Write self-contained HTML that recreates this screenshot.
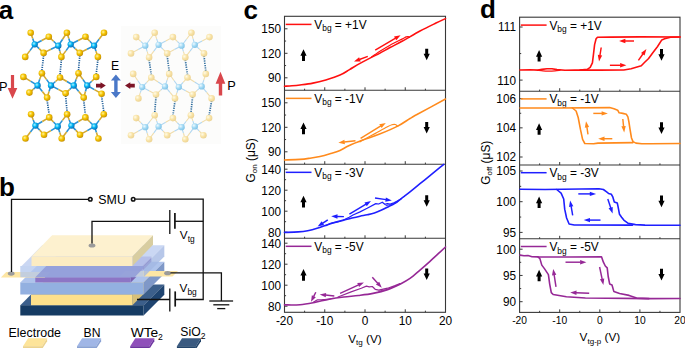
<!DOCTYPE html>
<html><head><meta charset="utf-8"><style>
html,body{margin:0;padding:0;background:#fff;}
body{width:685px;height:348px;overflow:hidden;}
svg{display:block;font-family:"Liberation Sans",sans-serif;}
</style></head><body>
<svg width="685" height="348" viewBox="0 0 685 348">
<rect width="685" height="348" fill="#fff"/>
<text x="-1.2" y="18.5" font-size="26" font-weight="bold" >a</text>
<text x="-1" y="195.6" font-size="26" font-weight="bold" >b</text>
<text x="243.6" y="18.5" font-size="26" font-weight="bold" >c</text>
<text x="480" y="18.4" font-size="26" font-weight="bold" >d</text>
<rect x="284.5" y="16.3" width="161" height="296" fill="none" stroke="#383838" stroke-width="1.1"/>
<line x1="284.5" y1="90.3" x2="445.5" y2="90.3" stroke="#383838" stroke-width="1.1"/>
<line x1="284.5" y1="164.2" x2="445.5" y2="164.2" stroke="#383838" stroke-width="1.1"/>
<line x1="284.5" y1="238.3" x2="445.5" y2="238.3" stroke="#383838" stroke-width="1.1"/>
<line x1="304.62" y1="90.3" x2="304.62" y2="88.7" stroke="#383838" stroke-width="1"/>
<line x1="324.75" y1="90.3" x2="324.75" y2="87.3" stroke="#383838" stroke-width="1"/>
<line x1="344.88" y1="90.3" x2="344.88" y2="88.7" stroke="#383838" stroke-width="1"/>
<line x1="365" y1="90.3" x2="365" y2="87.3" stroke="#383838" stroke-width="1"/>
<line x1="385.12" y1="90.3" x2="385.12" y2="88.7" stroke="#383838" stroke-width="1"/>
<line x1="405.25" y1="90.3" x2="405.25" y2="87.3" stroke="#383838" stroke-width="1"/>
<line x1="425.38" y1="90.3" x2="425.38" y2="88.7" stroke="#383838" stroke-width="1"/>
<line x1="284.5" y1="28.8" x2="287.5" y2="28.8" stroke="#383838" stroke-width="1"/>
<text transform="translate(281,33.25) scale(0.95,1)" font-size="12.4" text-anchor="end" >150</text>
<line x1="284.5" y1="53.3" x2="287.5" y2="53.3" stroke="#383838" stroke-width="1"/>
<text transform="translate(281,57.75) scale(0.95,1)" font-size="12.4" text-anchor="end" >120</text>
<line x1="284.5" y1="77.8" x2="287.5" y2="77.8" stroke="#383838" stroke-width="1"/>
<text transform="translate(281,82.25) scale(0.95,1)" font-size="12.4" text-anchor="end" >90</text>
<line x1="284.5" y1="41.05" x2="286.1" y2="41.05" stroke="#383838" stroke-width="1"/>
<line x1="284.5" y1="65.55" x2="286.1" y2="65.55" stroke="#383838" stroke-width="1"/>
<line x1="304.62" y1="164.2" x2="304.62" y2="162.6" stroke="#383838" stroke-width="1"/>
<line x1="324.75" y1="164.2" x2="324.75" y2="161.2" stroke="#383838" stroke-width="1"/>
<line x1="344.88" y1="164.2" x2="344.88" y2="162.6" stroke="#383838" stroke-width="1"/>
<line x1="365" y1="164.2" x2="365" y2="161.2" stroke="#383838" stroke-width="1"/>
<line x1="385.12" y1="164.2" x2="385.12" y2="162.6" stroke="#383838" stroke-width="1"/>
<line x1="405.25" y1="164.2" x2="405.25" y2="161.2" stroke="#383838" stroke-width="1"/>
<line x1="425.38" y1="164.2" x2="425.38" y2="162.6" stroke="#383838" stroke-width="1"/>
<line x1="284.5" y1="102.8" x2="287.5" y2="102.8" stroke="#383838" stroke-width="1"/>
<text transform="translate(281,107.25) scale(0.95,1)" font-size="12.4" text-anchor="end" >150</text>
<line x1="284.5" y1="127.3" x2="287.5" y2="127.3" stroke="#383838" stroke-width="1"/>
<text transform="translate(281,131.75) scale(0.95,1)" font-size="12.4" text-anchor="end" >120</text>
<line x1="284.5" y1="151.8" x2="287.5" y2="151.8" stroke="#383838" stroke-width="1"/>
<text transform="translate(281,156.25) scale(0.95,1)" font-size="12.4" text-anchor="end" >90</text>
<line x1="284.5" y1="115.05" x2="286.1" y2="115.05" stroke="#383838" stroke-width="1"/>
<line x1="284.5" y1="139.55" x2="286.1" y2="139.55" stroke="#383838" stroke-width="1"/>
<line x1="304.62" y1="238.3" x2="304.62" y2="236.7" stroke="#383838" stroke-width="1"/>
<line x1="324.75" y1="238.3" x2="324.75" y2="235.3" stroke="#383838" stroke-width="1"/>
<line x1="344.88" y1="238.3" x2="344.88" y2="236.7" stroke="#383838" stroke-width="1"/>
<line x1="365" y1="238.3" x2="365" y2="235.3" stroke="#383838" stroke-width="1"/>
<line x1="385.12" y1="238.3" x2="385.12" y2="236.7" stroke="#383838" stroke-width="1"/>
<line x1="405.25" y1="238.3" x2="405.25" y2="235.3" stroke="#383838" stroke-width="1"/>
<line x1="425.38" y1="238.3" x2="425.38" y2="236.7" stroke="#383838" stroke-width="1"/>
<line x1="284.5" y1="169.2" x2="287.5" y2="169.2" stroke="#383838" stroke-width="1"/>
<text transform="translate(281,173.65) scale(0.95,1)" font-size="12.4" text-anchor="end" >140</text>
<line x1="284.5" y1="190.2" x2="287.5" y2="190.2" stroke="#383838" stroke-width="1"/>
<text transform="translate(281,194.65) scale(0.95,1)" font-size="12.4" text-anchor="end" >120</text>
<line x1="284.5" y1="211.2" x2="287.5" y2="211.2" stroke="#383838" stroke-width="1"/>
<text transform="translate(281,215.65) scale(0.95,1)" font-size="12.4" text-anchor="end" >100</text>
<line x1="284.5" y1="232.2" x2="287.5" y2="232.2" stroke="#383838" stroke-width="1"/>
<text transform="translate(281,236.65) scale(0.95,1)" font-size="12.4" text-anchor="end" >80</text>
<line x1="284.5" y1="179.7" x2="286.1" y2="179.7" stroke="#383838" stroke-width="1"/>
<line x1="284.5" y1="200.7" x2="286.1" y2="200.7" stroke="#383838" stroke-width="1"/>
<line x1="284.5" y1="221.7" x2="286.1" y2="221.7" stroke="#383838" stroke-width="1"/>
<line x1="304.62" y1="312.3" x2="304.62" y2="310.7" stroke="#383838" stroke-width="1"/>
<line x1="324.75" y1="312.3" x2="324.75" y2="309.3" stroke="#383838" stroke-width="1"/>
<line x1="344.88" y1="312.3" x2="344.88" y2="310.7" stroke="#383838" stroke-width="1"/>
<line x1="365" y1="312.3" x2="365" y2="309.3" stroke="#383838" stroke-width="1"/>
<line x1="385.12" y1="312.3" x2="385.12" y2="310.7" stroke="#383838" stroke-width="1"/>
<line x1="405.25" y1="312.3" x2="405.25" y2="309.3" stroke="#383838" stroke-width="1"/>
<line x1="425.38" y1="312.3" x2="425.38" y2="310.7" stroke="#383838" stroke-width="1"/>
<line x1="284.5" y1="243.2" x2="287.5" y2="243.2" stroke="#383838" stroke-width="1"/>
<text transform="translate(281,247.65) scale(0.95,1)" font-size="12.4" text-anchor="end" >140</text>
<line x1="284.5" y1="264.2" x2="287.5" y2="264.2" stroke="#383838" stroke-width="1"/>
<text transform="translate(281,268.65) scale(0.95,1)" font-size="12.4" text-anchor="end" >120</text>
<line x1="284.5" y1="285.2" x2="287.5" y2="285.2" stroke="#383838" stroke-width="1"/>
<text transform="translate(281,289.65) scale(0.95,1)" font-size="12.4" text-anchor="end" >100</text>
<line x1="284.5" y1="306.2" x2="287.5" y2="306.2" stroke="#383838" stroke-width="1"/>
<text transform="translate(281,310.65) scale(0.95,1)" font-size="12.4" text-anchor="end" >80</text>
<line x1="284.5" y1="253.7" x2="286.1" y2="253.7" stroke="#383838" stroke-width="1"/>
<line x1="284.5" y1="274.7" x2="286.1" y2="274.7" stroke="#383838" stroke-width="1"/>
<line x1="284.5" y1="295.7" x2="286.1" y2="295.7" stroke="#383838" stroke-width="1"/>
<text transform="translate(284.5,325.1) scale(0.95,1)" font-size="12.5" text-anchor="middle" >-20</text>
<text transform="translate(324.75,325.1) scale(0.95,1)" font-size="12.5" text-anchor="middle" >-10</text>
<text transform="translate(365,325.1) scale(0.95,1)" font-size="12.5" text-anchor="middle" >0</text>
<text transform="translate(405.25,325.1) scale(0.95,1)" font-size="12.5" text-anchor="middle" >10</text>
<text transform="translate(445.5,325.1) scale(0.95,1)" font-size="12.5" text-anchor="middle" >20</text>
<rect x="519.6" y="17.2" width="160.4" height="295.2" fill="none" stroke="#383838" stroke-width="1.1"/>
<line x1="519.6" y1="91.2" x2="680" y2="91.2" stroke="#383838" stroke-width="1.1"/>
<line x1="519.6" y1="165" x2="680" y2="165" stroke="#383838" stroke-width="1.1"/>
<line x1="519.6" y1="238.8" x2="680" y2="238.8" stroke="#383838" stroke-width="1.1"/>
<line x1="539.65" y1="91.2" x2="539.65" y2="89.6" stroke="#383838" stroke-width="1"/>
<line x1="559.7" y1="91.2" x2="559.7" y2="88.2" stroke="#383838" stroke-width="1"/>
<line x1="579.75" y1="91.2" x2="579.75" y2="89.6" stroke="#383838" stroke-width="1"/>
<line x1="599.8" y1="91.2" x2="599.8" y2="88.2" stroke="#383838" stroke-width="1"/>
<line x1="619.85" y1="91.2" x2="619.85" y2="89.6" stroke="#383838" stroke-width="1"/>
<line x1="639.9" y1="91.2" x2="639.9" y2="88.2" stroke="#383838" stroke-width="1"/>
<line x1="659.95" y1="91.2" x2="659.95" y2="89.6" stroke="#383838" stroke-width="1"/>
<line x1="519.6" y1="27" x2="522.6" y2="27" stroke="#383838" stroke-width="1"/>
<text transform="translate(516,31.45) scale(0.95,1)" font-size="12.4" text-anchor="end" >111</text>
<line x1="519.6" y1="80.1" x2="522.6" y2="80.1" stroke="#383838" stroke-width="1"/>
<text transform="translate(516,84.55) scale(0.95,1)" font-size="12.4" text-anchor="end" >110</text>
<line x1="519.6" y1="53.55" x2="521.2" y2="53.55" stroke="#383838" stroke-width="1"/>
<line x1="539.65" y1="165" x2="539.65" y2="163.4" stroke="#383838" stroke-width="1"/>
<line x1="559.7" y1="165" x2="559.7" y2="162" stroke="#383838" stroke-width="1"/>
<line x1="579.75" y1="165" x2="579.75" y2="163.4" stroke="#383838" stroke-width="1"/>
<line x1="599.8" y1="165" x2="599.8" y2="162" stroke="#383838" stroke-width="1"/>
<line x1="619.85" y1="165" x2="619.85" y2="163.4" stroke="#383838" stroke-width="1"/>
<line x1="639.9" y1="165" x2="639.9" y2="162" stroke="#383838" stroke-width="1"/>
<line x1="659.95" y1="165" x2="659.95" y2="163.4" stroke="#383838" stroke-width="1"/>
<line x1="519.6" y1="98.7" x2="522.6" y2="98.7" stroke="#383838" stroke-width="1"/>
<text transform="translate(516,103.15) scale(0.95,1)" font-size="12.4" text-anchor="end" >106</text>
<line x1="519.6" y1="127.85" x2="522.6" y2="127.85" stroke="#383838" stroke-width="1"/>
<text transform="translate(516,132.3) scale(0.95,1)" font-size="12.4" text-anchor="end" >104</text>
<line x1="519.6" y1="157" x2="522.6" y2="157" stroke="#383838" stroke-width="1"/>
<text transform="translate(516,161.45) scale(0.95,1)" font-size="12.4" text-anchor="end" >102</text>
<line x1="519.6" y1="113.28" x2="521.2" y2="113.28" stroke="#383838" stroke-width="1"/>
<line x1="519.6" y1="142.43" x2="521.2" y2="142.43" stroke="#383838" stroke-width="1"/>
<line x1="539.65" y1="238.8" x2="539.65" y2="237.2" stroke="#383838" stroke-width="1"/>
<line x1="559.7" y1="238.8" x2="559.7" y2="235.8" stroke="#383838" stroke-width="1"/>
<line x1="579.75" y1="238.8" x2="579.75" y2="237.2" stroke="#383838" stroke-width="1"/>
<line x1="599.8" y1="238.8" x2="599.8" y2="235.8" stroke="#383838" stroke-width="1"/>
<line x1="619.85" y1="238.8" x2="619.85" y2="237.2" stroke="#383838" stroke-width="1"/>
<line x1="639.9" y1="238.8" x2="639.9" y2="235.8" stroke="#383838" stroke-width="1"/>
<line x1="659.95" y1="238.8" x2="659.95" y2="237.2" stroke="#383838" stroke-width="1"/>
<line x1="519.6" y1="171" x2="522.6" y2="171" stroke="#383838" stroke-width="1"/>
<text transform="translate(516,175.45) scale(0.95,1)" font-size="12.4" text-anchor="end" >105</text>
<line x1="519.6" y1="201.7" x2="522.6" y2="201.7" stroke="#383838" stroke-width="1"/>
<text transform="translate(516,206.15) scale(0.95,1)" font-size="12.4" text-anchor="end" >100</text>
<line x1="519.6" y1="232.4" x2="522.6" y2="232.4" stroke="#383838" stroke-width="1"/>
<text transform="translate(516,236.85) scale(0.95,1)" font-size="12.4" text-anchor="end" >95</text>
<line x1="519.6" y1="186.35" x2="521.2" y2="186.35" stroke="#383838" stroke-width="1"/>
<line x1="519.6" y1="217.05" x2="521.2" y2="217.05" stroke="#383838" stroke-width="1"/>
<line x1="539.65" y1="312.4" x2="539.65" y2="310.8" stroke="#383838" stroke-width="1"/>
<line x1="559.7" y1="312.4" x2="559.7" y2="309.4" stroke="#383838" stroke-width="1"/>
<line x1="579.75" y1="312.4" x2="579.75" y2="310.8" stroke="#383838" stroke-width="1"/>
<line x1="599.8" y1="312.4" x2="599.8" y2="309.4" stroke="#383838" stroke-width="1"/>
<line x1="619.85" y1="312.4" x2="619.85" y2="310.8" stroke="#383838" stroke-width="1"/>
<line x1="639.9" y1="312.4" x2="639.9" y2="309.4" stroke="#383838" stroke-width="1"/>
<line x1="659.95" y1="312.4" x2="659.95" y2="310.8" stroke="#383838" stroke-width="1"/>
<line x1="519.6" y1="249.2" x2="522.6" y2="249.2" stroke="#383838" stroke-width="1"/>
<text transform="translate(516,253.65) scale(0.95,1)" font-size="12.4" text-anchor="end" >100</text>
<line x1="519.6" y1="275.45" x2="522.6" y2="275.45" stroke="#383838" stroke-width="1"/>
<text transform="translate(516,279.9) scale(0.95,1)" font-size="12.4" text-anchor="end" >95</text>
<line x1="519.6" y1="301.7" x2="522.6" y2="301.7" stroke="#383838" stroke-width="1"/>
<text transform="translate(516,306.15) scale(0.95,1)" font-size="12.4" text-anchor="end" >90</text>
<line x1="519.6" y1="262.32" x2="521.2" y2="262.32" stroke="#383838" stroke-width="1"/>
<line x1="519.6" y1="288.57" x2="521.2" y2="288.57" stroke="#383838" stroke-width="1"/>
<text transform="translate(519.6,324.1) scale(0.95,1)" font-size="10.8" text-anchor="middle" >-20</text>
<text transform="translate(559.7,324.1) scale(0.95,1)" font-size="10.8" text-anchor="middle" >-10</text>
<text transform="translate(599.8,324.1) scale(0.95,1)" font-size="10.8" text-anchor="middle" >0</text>
<text transform="translate(639.9,324.1) scale(0.95,1)" font-size="10.8" text-anchor="middle" >10</text>
<text transform="translate(680,324.1) scale(0.95,1)" font-size="10.8" text-anchor="middle" >20</text>
<text x="348.2" y="342.8" font-size="11.8">V<tspan font-size="8" dy="2.6">tg</tspan><tspan dy="-2.6"> (V)</tspan></text>
<text x="579.6" y="341.1" font-size="11.8">V<tspan font-size="8" dy="2.6">tg-p</tspan><tspan dy="-2.6"> (V)</tspan></text>
<text transform="translate(254.7,182.4) rotate(-90)" font-size="11.9">G<tspan font-size="8" dy="2.6">on</tspan><tspan dy="-2.6"> (μS)</tspan></text>
<text transform="translate(489.8,184.7) rotate(-90)" font-size="11.9">G<tspan font-size="8" dy="2.6">off</tspan><tspan dy="-2.6"> (μS)</tspan></text>
<line x1="285.7" y1="24.4" x2="311.5" y2="24.4" stroke="#ff1010" stroke-width="1.5"/>
<text x="314.3" y="28.8" font-size="11.9">V<tspan font-size="8.4" dy="2.6">bg</tspan><tspan dy="-2.6"> = +1V</tspan></text>
<line x1="520.8" y1="25.1" x2="546.6" y2="25.1" stroke="#ff1010" stroke-width="1.5"/>
<text x="549.4" y="29.5" font-size="11.9">V<tspan font-size="8.4" dy="2.6">bg</tspan><tspan dy="-2.6"> = +1V</tspan></text>
<line x1="285.7" y1="98.37" x2="311.5" y2="98.37" stroke="#ff8a1c" stroke-width="1.5"/>
<text x="314.3" y="102.77" font-size="11.9">V<tspan font-size="8.4" dy="2.6">bg</tspan><tspan dy="-2.6"> = -1V</tspan></text>
<line x1="520.8" y1="98.9" x2="546.6" y2="98.9" stroke="#ff8a1c" stroke-width="1.5"/>
<text x="549.4" y="103.3" font-size="11.9">V<tspan font-size="8.4" dy="2.6">bg</tspan><tspan dy="-2.6"> = -1V</tspan></text>
<line x1="285.7" y1="172.34" x2="311.5" y2="172.34" stroke="#1f1fff" stroke-width="1.5"/>
<text x="314.3" y="176.74" font-size="11.9">V<tspan font-size="8.4" dy="2.6">bg</tspan><tspan dy="-2.6"> = -3V</tspan></text>
<line x1="520.8" y1="172.7" x2="546.6" y2="172.7" stroke="#1f1fff" stroke-width="1.5"/>
<text x="549.4" y="177.1" font-size="11.9">V<tspan font-size="8.4" dy="2.6">bg</tspan><tspan dy="-2.6"> = -3V</tspan></text>
<line x1="285.7" y1="246.31" x2="311.5" y2="246.31" stroke="#962896" stroke-width="1.5"/>
<text x="314.3" y="250.71" font-size="11.9">V<tspan font-size="8.4" dy="2.6">bg</tspan><tspan dy="-2.6"> = -5V</tspan></text>
<line x1="520.8" y1="246.5" x2="546.6" y2="246.5" stroke="#962896" stroke-width="1.5"/>
<text x="549.4" y="250.9" font-size="11.9">V<tspan font-size="8.4" dy="2.6">bg</tspan><tspan dy="-2.6"> = -5V</tspan></text>
<path d="M303.5,49.2 L306.6,55.8 L305,55.8 L305,60.9 L302,60.9 L302,55.8 L300.4,55.8 Z" fill="#000"/>
<path d="M426.7,60.3 L429.8,53.7 L428.2,53.7 L428.2,48.8 L425.2,48.8 L425.2,53.7 L423.6,53.7 Z" fill="#000"/>
<path d="M539.1,50.1 L542.2,56.7 L540.6,56.7 L540.6,61.4 L537.6,61.4 L537.6,56.7 L536,56.7 Z" fill="#000"/>
<path d="M661.5,60.8 L664.6,54.2 L663,54.2 L663,48.9 L660,48.9 L660,54.2 L658.4,54.2 Z" fill="#000"/>
<path d="M303.5,122.45 L306.6,129.05 L305,129.05 L305,134.15 L302,134.15 L302,129.05 L300.4,129.05 Z" fill="#000"/>
<path d="M426.7,133.55 L429.8,126.95 L428.2,126.95 L428.2,122.05 L425.2,122.05 L425.2,126.95 L423.6,126.95 Z" fill="#000"/>
<path d="M539.1,123.35 L542.2,129.95 L540.6,129.95 L540.6,134.65 L537.6,134.65 L537.6,129.95 L536,129.95 Z" fill="#000"/>
<path d="M661.5,134.05 L664.6,127.45 L663,127.45 L663,122.15 L660,122.15 L660,127.45 L658.4,127.45 Z" fill="#000"/>
<path d="M303.5,195.7 L306.6,202.3 L305,202.3 L305,207.4 L302,207.4 L302,202.3 L300.4,202.3 Z" fill="#000"/>
<path d="M426.7,206.8 L429.8,200.2 L428.2,200.2 L428.2,195.3 L425.2,195.3 L425.2,200.2 L423.6,200.2 Z" fill="#000"/>
<path d="M539.1,196.6 L542.2,203.2 L540.6,203.2 L540.6,207.9 L537.6,207.9 L537.6,203.2 L536,203.2 Z" fill="#000"/>
<path d="M661.5,207.3 L664.6,200.7 L663,200.7 L663,195.4 L660,195.4 L660,200.7 L658.4,200.7 Z" fill="#000"/>
<path d="M303.5,268.95 L306.6,275.55 L305,275.55 L305,280.65 L302,280.65 L302,275.55 L300.4,275.55 Z" fill="#000"/>
<path d="M426.7,280.05 L429.8,273.45 L428.2,273.45 L428.2,268.55 L425.2,268.55 L425.2,273.45 L423.6,273.45 Z" fill="#000"/>
<path d="M539.1,269.85 L542.2,276.45 L540.6,276.45 L540.6,281.15 L537.6,281.15 L537.6,276.45 L536,276.45 Z" fill="#000"/>
<path d="M661.5,280.55 L664.6,273.95 L663,273.95 L663,268.65 L660,268.65 L660,273.95 L658.4,273.95 Z" fill="#000"/>
<path d="M284.5,86.2 C285.75,86.13 289.42,86 292,85.8 C294.58,85.6 296.52,85.45 300,85 C303.48,84.55 308.6,83.95 312.9,83.1 C317.2,82.25 321.28,81.23 325.8,79.9 C330.32,78.57 336.05,76.82 340,75.1 C343.95,73.38 346.17,71.55 349.5,69.6 C352.83,67.65 356.58,65.32 360,63.4 C363.42,61.48 366.67,59.82 370,58.1 C373.33,56.38 376.67,54.87 380,53.1 C383.33,51.33 386.33,49.47 390,47.5 C393.67,45.53 397,44.04 402,41.3 C407,38.56 414.33,34.09 420,31.05 C425.67,28.01 431.75,25.12 436,23.05 C440.25,20.98 443.92,19.34 445.5,18.6" fill="none" stroke="#ff1010" stroke-width="1.6" stroke-linejoin="round" stroke-linecap="round"/>
<path d="M371.5,56.9 C372.08,56.52 373.58,55.53 375,54.6 C376.42,53.67 377.5,52.87 380,51.3 C382.5,49.73 386.33,47.23 390,45.2 C393.67,43.17 399.28,40.48 402,39.1 C404.72,37.72 405.27,37.32 406.3,36.9 C407.33,36.48 407.68,36.52 408.2,36.6 C408.72,36.68 409.2,37.27 409.4,37.4" fill="none" stroke="#ff1010" stroke-width="1.2" stroke-linejoin="round" stroke-linecap="round"/>
<line x1="375.2" y1="50.1" x2="395.6" y2="38.13" stroke="#ff1010" stroke-width="1.45"/>
<path d="M400.6,35.2 L396.28,40.29 L394.05,36.49 Z" fill="#ff1010"/>
<line x1="367.8" y1="56.4" x2="359.43" y2="59.55" stroke="#ff1010" stroke-width="1.45"/>
<path d="M354,61.6 L359.12,57.32 L360.67,61.44 Z" fill="#ff1010"/>
<path d="M284.5,160 C287.08,159.9 295.75,159.7 300,159.4 C304.25,159.1 306.67,158.69 310,158.2 C313.33,157.71 316.67,157.2 320,156.45 C323.33,155.7 326.67,154.71 330,153.7 C333.33,152.69 336.88,151.72 340,150.4 C343.12,149.08 344.92,147.52 348.7,145.8 C352.48,144.08 357.65,142.02 362.7,140.1 C367.75,138.18 373.17,136.63 379,134.3 C384.83,131.97 392.53,128.73 397.7,126.1 C402.87,123.47 406.87,120.38 410,118.5 C413.13,116.62 410.58,118.05 416.5,114.8 C422.42,111.55 440.67,101.63 445.5,99" fill="none" stroke="#ff8a1c" stroke-width="1.6" stroke-linejoin="round" stroke-linecap="round"/>
<path d="M360,141.8 C360.45,141.55 360.2,141.67 362.7,140.3 C365.2,138.93 370.95,135.82 375,133.6 C379.05,131.38 384.18,128.48 387,127 C389.82,125.52 390.5,125.12 391.9,124.7 C393.3,124.28 394.43,124.23 395.4,124.5 C396.37,124.77 397.32,126 397.7,126.3" fill="none" stroke="#ff8a1c" stroke-width="1.2" stroke-linejoin="round" stroke-linecap="round"/>
<line x1="360.6" y1="138.4" x2="380.86" y2="125.94" stroke="#ff8a1c" stroke-width="1.45"/>
<path d="M385.8,122.9 L381.59,128.07 L379.28,124.33 Z" fill="#ff8a1c"/>
<line x1="355.5" y1="140.7" x2="344.16" y2="142.09" stroke="#ff8a1c" stroke-width="1.45"/>
<path d="M338.4,142.8 L344.38,139.85 L344.92,144.22 Z" fill="#ff8a1c"/>
<path d="M284.5,232.4 C286.78,232.32 294.33,232.18 298.2,231.9 C302.07,231.62 304.55,231.3 307.7,230.7 C310.85,230.1 313.17,229.52 317.1,228.3 C321.03,227.08 326.97,224.73 331.3,223.4 C335.63,222.07 339.65,221.2 343.1,220.3 C346.55,219.4 349.18,218.68 352,218 C354.82,217.32 357.47,216.73 360,216.2 C362.53,215.67 364.8,215.33 367.2,214.8 C369.6,214.27 372,213.78 374.4,213 C376.8,212.22 379.2,211.18 381.6,210.1 C384,209.02 386.65,207.58 388.8,206.5 C390.95,205.42 392.58,204.8 394.5,203.6 C396.42,202.4 398.55,200.62 400.3,199.3 C402.05,197.98 403.38,196.95 405,195.7 C406.62,194.45 407.5,193.81 410,191.8 C412.5,189.79 416.67,186.35 420,183.65 C423.33,180.95 426.67,178.31 430,175.6 C433.33,172.89 437.7,169.27 440,167.4 C442.3,165.53 443.17,164.9 443.8,164.4" fill="none" stroke="#1f1fff" stroke-width="1.6" stroke-linejoin="round" stroke-linecap="round"/>
<path d="M326,225.8 C326.67,225.4 328.33,224 330,223.4 C331.67,222.8 333.73,222.7 336,222.2 C338.27,221.7 342.33,220.7 343.6,220.4" fill="none" stroke="#1f1fff" stroke-width="1.1" stroke-linejoin="round" stroke-linecap="round"/>
<path d="M343,220.2 L349.2,217.2 L353,215 L360,211.9 L367.2,208.3 L375.8,203.6 L378.7,204 L382.3,202.2 L384.8,204.3 L387.3,203.6 L390.2,204 L393.8,202.9 L398.1,200.8 L401,199" fill="none" stroke="#1f1fff" stroke-width="1.25" stroke-linejoin="round" stroke-linecap="round"/>
<path d="M386,205.5 C387,205.28 390,204.85 392,204.2 C394,203.55 397,202.03 398,201.6" fill="none" stroke="#1f1fff" stroke-width="1.0" stroke-linejoin="round" stroke-linecap="round"/>
<line x1="349.4" y1="214.1" x2="366.04" y2="204.01" stroke="#1f1fff" stroke-width="1.45"/>
<path d="M371,201 L366.75,206.15 L364.47,202.39 Z" fill="#1f1fff"/>
<line x1="375" y1="198" x2="386.06" y2="199.65" stroke="#1f1fff" stroke-width="1.45"/>
<path d="M391.8,200.5 L385.24,201.75 L385.89,197.4 Z" fill="#1f1fff"/>
<line x1="343.9" y1="216.6" x2="337" y2="216.44" stroke="#1f1fff" stroke-width="1.45"/>
<path d="M331.2,216.3 L337.55,214.25 L337.45,218.65 Z" fill="#1f1fff"/>
<line x1="327.8" y1="219.9" x2="322.47" y2="223.35" stroke="#1f1fff" stroke-width="1.45"/>
<path d="M317.6,226.5 L321.69,221.23 L324.08,224.92 Z" fill="#1f1fff"/>
<path d="M284.5,304.9 C287.08,304.87 294.98,305.12 300,304.7 C305.02,304.28 309.73,303.32 314.6,302.4 C319.47,301.48 324.33,300.1 329.2,299.2 C334.07,298.3 338.93,297.62 343.8,297 C348.67,296.38 353.53,296.1 358.4,295.5 C363.27,294.9 368.13,294.37 373,293.4 C377.87,292.43 383.1,291.23 387.6,289.7 C392.1,288.17 396.27,286.08 400,284.2 C403.73,282.32 406.67,280.76 410,278.4 C413.33,276.04 416.67,272.9 420,270.05 C423.33,267.2 426.67,264.3 430,261.3 C433.33,258.3 437.42,254.43 440,252.05 C442.58,249.67 444.58,247.84 445.5,247" fill="none" stroke="#962896" stroke-width="1.6" stroke-linejoin="round" stroke-linecap="round"/>
<path d="M313.5,302.3 C314.17,301.9 315.85,300.35 317.5,299.9 C319.15,299.45 320.72,299.87 323.4,299.6 C326.08,299.33 331.9,298.52 333.6,298.3" fill="none" stroke="#962896" stroke-width="1.1" stroke-linejoin="round" stroke-linecap="round"/>
<path d="M338,297 L351.1,291.9 L361.3,288.2 L366.4,286.1 L369.3,286.8 L372.3,286.5 L375.2,289.3 L378.8,290.1 L387.6,288.2 L395,285.6 L400,283.6" fill="none" stroke="#962896" stroke-width="1.2" stroke-linejoin="round" stroke-linecap="round"/>
<path d="M378.8,291.2 C380.33,290.83 385.13,289.9 388,289 C390.87,288.1 394.67,286.33 396,285.8" fill="none" stroke="#962896" stroke-width="1.0" stroke-linejoin="round" stroke-linecap="round"/>
<line x1="340.1" y1="293.4" x2="358.64" y2="284.83" stroke="#962896" stroke-width="1.45"/>
<path d="M363.9,282.4 L359.1,287.04 L357.26,283.05 Z" fill="#962896"/>
<line x1="372.3" y1="277.3" x2="377.91" y2="283.5" stroke="#962896" stroke-width="1.45"/>
<path d="M381.8,287.8 L375.94,284.6 L379.2,281.65 Z" fill="#962896"/>
<line x1="334.3" y1="296" x2="325.47" y2="295.09" stroke="#962896" stroke-width="1.45"/>
<path d="M319.7,294.5 L326.19,292.96 L325.74,297.33 Z" fill="#962896"/>
<line x1="315.8" y1="292.2" x2="313.59" y2="296.61" stroke="#962896" stroke-width="1.45"/>
<path d="M311,301.8 L311.85,295.18 L315.79,297.15 Z" fill="#962896"/>
<path d="M520,70 L530,69.8 L538,70.1 L542,69.4 L547,68.8 L552,68.8 L557,69.6 L565,70.2 L575,70 L590,70.1 L600,70.1 L623.8,70 L631.1,68.7 L641.3,65.8 L644.2,62.8 L648.6,58.5 L653,52.6 L657.4,46.8 L661.8,39.9 L664.7,38.8 L670.5,37.3 L680,37" fill="none" stroke="#ff1010" stroke-width="1.6" stroke-linejoin="round" stroke-linecap="round"/>
<path d="M680,37 L640,36.9 L610,37.1 L597.5,37.2 L596.1,38.8 L594.6,44.6 L593.4,54.8 L592.4,62.8 L590.2,67.4 L587.3,69.4 L580,70" fill="none" stroke="#ff1010" stroke-width="1.6" stroke-linejoin="round" stroke-linecap="round"/>
<path d="M538,70.2 C538.83,70.32 541.17,70.75 543,70.9 C544.83,71.05 547,71.12 549,71.1 C551,71.08 553.17,70.95 555,70.8 C556.83,70.65 559.17,70.3 560,70.2" fill="none" stroke="#ff1010" stroke-width="1.2" stroke-linejoin="round" stroke-linecap="round"/>
<line x1="634" y1="41" x2="624.9" y2="41" stroke="#ff1010" stroke-width="1.45"/>
<path d="M619.1,41 L625.4,38.8 L625.4,43.2 Z" fill="#ff1010"/>
<line x1="601.2" y1="47.5" x2="599.91" y2="55.67" stroke="#ff1010" stroke-width="1.45"/>
<path d="M599,61.4 L597.81,54.83 L602.16,55.52 Z" fill="#ff1010"/>
<line x1="609.9" y1="65.3" x2="620.6" y2="65.3" stroke="#ff1010" stroke-width="1.45"/>
<path d="M626.4,65.3 L620.1,67.5 L620.1,63.1 Z" fill="#ff1010"/>
<line x1="638.4" y1="60.4" x2="643.07" y2="53.75" stroke="#ff1010" stroke-width="1.45"/>
<path d="M646.4,49 L644.58,55.42 L640.98,52.89 Z" fill="#ff1010"/>
<path d="M520,108 L560,108 L609.6,107.6 L614,108.8 L617.7,110.2 L619.1,112.8 L622.8,113.4 L626.4,114.3 L627.9,116.8 L628.9,121.9 L630,129.2 L631.5,138 L633,141.6 L635.9,143.1 L641.8,143.8 L650.5,143.8 L680,143.5" fill="none" stroke="#ff8a1c" stroke-width="1.6" stroke-linejoin="round" stroke-linecap="round"/>
<path d="M572.4,108 L576.1,111 L578.2,117.5 L580.4,129.2 L582.6,139.4 L584.8,143.5 L593.6,143.8 L598,143.1 L633,142.6" fill="none" stroke="#ff8a1c" stroke-width="1.6" stroke-linejoin="round" stroke-linecap="round"/>
<line x1="593.3" y1="113.4" x2="602.1" y2="113.4" stroke="#ff8a1c" stroke-width="1.45"/>
<path d="M607.9,113.4 L601.6,115.6 L601.6,111.2 Z" fill="#ff8a1c"/>
<line x1="622.8" y1="119" x2="623.6" y2="126.63" stroke="#ff8a1c" stroke-width="1.45"/>
<path d="M624.2,132.4 L621.36,126.36 L625.73,125.91 Z" fill="#ff8a1c"/>
<line x1="612.3" y1="138.7" x2="604" y2="138.7" stroke="#ff8a1c" stroke-width="1.45"/>
<path d="M598.2,138.7 L604.5,136.5 L604.5,140.9 Z" fill="#ff8a1c"/>
<line x1="588" y1="134.3" x2="586.88" y2="126.93" stroke="#ff8a1c" stroke-width="1.45"/>
<path d="M586,121.2 L589.13,127.1 L584.78,127.76 Z" fill="#ff8a1c"/>
<path d="M520,189.3 L545,189.5 L599,188.8 L603.4,189.5 L606.3,191.7 L608.5,193.4 L611.4,194.3 L612.9,197.2 L614.3,201.9 L617.3,203.1 L618,206.3 L619.5,214.3 L621.6,217.2 L623.8,220.1 L628.2,223.4 L635.5,224.6 L645,225.1 L680,225.3" fill="none" stroke="#1f1fff" stroke-width="1.6" stroke-linejoin="round" stroke-linecap="round"/>
<path d="M556.7,189.5 L561.1,193.1 L563.7,199 L564.7,209.2 L566.6,218 L569.1,224 L574.2,225 L632.6,225.1" fill="none" stroke="#1f1fff" stroke-width="1.6" stroke-linejoin="round" stroke-linecap="round"/>
<line x1="578.3" y1="193.9" x2="590.3" y2="193.9" stroke="#1f1fff" stroke-width="1.45"/>
<path d="M596.1,193.9 L589.8,196.1 L589.8,191.7 Z" fill="#1f1fff"/>
<line x1="607.8" y1="199" x2="610.79" y2="208.09" stroke="#1f1fff" stroke-width="1.45"/>
<path d="M612.6,213.6 L608.54,208.3 L612.72,206.93 Z" fill="#1f1fff"/>
<line x1="600.5" y1="220.1" x2="589.5" y2="220.1" stroke="#1f1fff" stroke-width="1.45"/>
<path d="M583.7,220.1 L590,217.9 L590,222.3 Z" fill="#1f1fff"/>
<line x1="572.7" y1="215.3" x2="571.1" y2="206.11" stroke="#1f1fff" stroke-width="1.45"/>
<path d="M570.1,200.4 L573.35,206.23 L569.02,206.98 Z" fill="#1f1fff"/>
<path d="M520,255.1 L524,255.8 L528,255.6 L532,256.7 L538,256.9 L570,257 L601.5,256.8 L603.4,262.2 L605.3,266 L607.2,267.9 L608.2,276.5 L609.7,284.1 L612,285 L613.9,291.6 L619.6,293.5 L629.1,295.4 L636.6,298.1 L649,298.6 L680,298.5" fill="none" stroke="#962896" stroke-width="1.6" stroke-linejoin="round" stroke-linecap="round"/>
<path d="M538,256.9 L539.9,258.6 L541.8,265.1 L544.6,268.9 L548.4,274.6 L549.7,284.1 L551.3,292.6 L553.2,294.5 L566.4,296.7 L585.4,298 L649,298.6" fill="none" stroke="#962896" stroke-width="1.6" stroke-linejoin="round" stroke-linecap="round"/>
<line x1="565.5" y1="262.2" x2="580.6" y2="262.2" stroke="#962896" stroke-width="1.45"/>
<path d="M586.4,262.2 L580.1,264.4 L580.1,260 Z" fill="#962896"/>
<line x1="599.6" y1="267" x2="602.2" y2="279.33" stroke="#962896" stroke-width="1.45"/>
<path d="M603.4,285 L599.95,279.29 L604.25,278.38 Z" fill="#962896"/>
<line x1="589.2" y1="293.2" x2="576" y2="292.78" stroke="#962896" stroke-width="1.45"/>
<path d="M570.2,292.6 L576.57,290.6 L576.43,295 Z" fill="#962896"/>
<line x1="556" y1="286.9" x2="554.09" y2="274.63" stroke="#962896" stroke-width="1.45"/>
<path d="M553.2,268.9 L556.34,274.79 L551.99,275.46 Z" fill="#962896"/>
<defs>
<radialGradient id="gy" cx="0.38" cy="0.38" r="0.7"><stop offset="0" stop-color="#fff4a0"/><stop offset="0.45" stop-color="#f5c400"/><stop offset="0.85" stop-color="#d09a00"/><stop offset="1" stop-color="#a87400"/></radialGradient>
<radialGradient id="gb" cx="0.38" cy="0.38" r="0.7"><stop offset="0" stop-color="#b0f4ff"/><stop offset="0.45" stop-color="#00b2f2"/><stop offset="0.85" stop-color="#0a7ac2"/><stop offset="1" stop-color="#06528c"/></radialGradient>
<radialGradient id="gyl" cx="0.35" cy="0.35" r="0.75"><stop offset="0" stop-color="#fffbe6"/><stop offset="0.5" stop-color="#f8e2a4"/><stop offset="1" stop-color="#ead090"/></radialGradient>
<radialGradient id="gbl" cx="0.35" cy="0.35" r="0.75"><stop offset="0" stop-color="#eefaff"/><stop offset="0.5" stop-color="#9fd8f4"/><stop offset="1" stop-color="#7cbfe4"/></radialGradient>
</defs>
<rect x="121" y="26" width="100" height="118" fill="#fcfcfb"/>
<line x1="34.7" y1="44.3" x2="32.7" y2="38.55" stroke="#2a92d6" stroke-width="1.55"/>
<line x1="32.7" y1="38.55" x2="30.7" y2="32.8" stroke="#d2a832" stroke-width="1.55"/>
<line x1="34.7" y1="44.3" x2="41.75" y2="40.5" stroke="#2a92d6" stroke-width="1.55"/>
<line x1="41.75" y1="40.5" x2="48.8" y2="36.7" stroke="#d2a832" stroke-width="1.55"/>
<line x1="34.7" y1="44.3" x2="29.95" y2="50.6" stroke="#2a92d6" stroke-width="1.55"/>
<line x1="29.95" y1="50.6" x2="25.2" y2="56.9" stroke="#d2a832" stroke-width="1.55"/>
<line x1="34.7" y1="44.3" x2="39.15" y2="48.6" stroke="#2a92d6" stroke-width="1.55"/>
<line x1="39.15" y1="48.6" x2="43.6" y2="52.9" stroke="#d2a832" stroke-width="1.55"/>
<line x1="58.3" y1="45.7" x2="53.55" y2="41.2" stroke="#2a92d6" stroke-width="1.55"/>
<line x1="53.55" y1="41.2" x2="48.8" y2="36.7" stroke="#d2a832" stroke-width="1.55"/>
<line x1="58.3" y1="45.7" x2="62.6" y2="39.25" stroke="#2a92d6" stroke-width="1.55"/>
<line x1="62.6" y1="39.25" x2="66.9" y2="32.8" stroke="#d2a832" stroke-width="1.55"/>
<line x1="58.3" y1="45.7" x2="50.95" y2="49.3" stroke="#2a92d6" stroke-width="1.55"/>
<line x1="50.95" y1="49.3" x2="43.6" y2="52.9" stroke="#d2a832" stroke-width="1.55"/>
<line x1="58.3" y1="45.7" x2="59.85" y2="51.3" stroke="#2a92d6" stroke-width="1.55"/>
<line x1="59.85" y1="51.3" x2="61.4" y2="56.9" stroke="#d2a832" stroke-width="1.55"/>
<line x1="70.7" y1="44.3" x2="68.8" y2="38.55" stroke="#2a92d6" stroke-width="1.55"/>
<line x1="68.8" y1="38.55" x2="66.9" y2="32.8" stroke="#d2a832" stroke-width="1.55"/>
<line x1="70.7" y1="44.3" x2="78.1" y2="40.5" stroke="#2a92d6" stroke-width="1.55"/>
<line x1="78.1" y1="40.5" x2="85.5" y2="36.7" stroke="#d2a832" stroke-width="1.55"/>
<line x1="70.7" y1="44.3" x2="66.05" y2="50.6" stroke="#2a92d6" stroke-width="1.55"/>
<line x1="66.05" y1="50.6" x2="61.4" y2="56.9" stroke="#d2a832" stroke-width="1.55"/>
<line x1="70.7" y1="44.3" x2="75.25" y2="48.6" stroke="#2a92d6" stroke-width="1.55"/>
<line x1="75.25" y1="48.6" x2="79.8" y2="52.9" stroke="#d2a832" stroke-width="1.55"/>
<line x1="94.1" y1="45.7" x2="89.8" y2="41.2" stroke="#2a92d6" stroke-width="1.55"/>
<line x1="89.8" y1="41.2" x2="85.5" y2="36.7" stroke="#d2a832" stroke-width="1.55"/>
<line x1="94.1" y1="45.7" x2="99.05" y2="39.25" stroke="#2a92d6" stroke-width="1.55"/>
<line x1="99.05" y1="39.25" x2="104" y2="32.8" stroke="#d2a832" stroke-width="1.55"/>
<line x1="94.1" y1="45.7" x2="86.95" y2="49.3" stroke="#2a92d6" stroke-width="1.55"/>
<line x1="86.95" y1="49.3" x2="79.8" y2="52.9" stroke="#d2a832" stroke-width="1.55"/>
<line x1="94.1" y1="45.7" x2="96" y2="51.3" stroke="#2a92d6" stroke-width="1.55"/>
<line x1="96" y1="51.3" x2="97.9" y2="56.9" stroke="#d2a832" stroke-width="1.55"/>
<line x1="37.6" y1="85.5" x2="30.5" y2="81.2" stroke="#2a92d6" stroke-width="1.55"/>
<line x1="30.5" y1="81.2" x2="23.4" y2="76.9" stroke="#d2a832" stroke-width="1.55"/>
<line x1="37.6" y1="85.5" x2="39.75" y2="79.35" stroke="#2a92d6" stroke-width="1.55"/>
<line x1="39.75" y1="79.35" x2="41.9" y2="73.2" stroke="#d2a832" stroke-width="1.55"/>
<line x1="37.6" y1="85.5" x2="33.5" y2="89.05" stroke="#2a92d6" stroke-width="1.55"/>
<line x1="33.5" y1="89.05" x2="29.4" y2="92.6" stroke="#d2a832" stroke-width="1.55"/>
<line x1="37.6" y1="85.5" x2="42.35" y2="91.55" stroke="#2a92d6" stroke-width="1.55"/>
<line x1="42.35" y1="91.55" x2="47.1" y2="97.6" stroke="#d2a832" stroke-width="1.55"/>
<line x1="51" y1="85.5" x2="46.45" y2="79.35" stroke="#2a92d6" stroke-width="1.55"/>
<line x1="46.45" y1="79.35" x2="41.9" y2="73.2" stroke="#d2a832" stroke-width="1.55"/>
<line x1="51" y1="85.5" x2="55.5" y2="81.5" stroke="#2a92d6" stroke-width="1.55"/>
<line x1="55.5" y1="81.5" x2="60" y2="77.5" stroke="#d2a832" stroke-width="1.55"/>
<line x1="51" y1="85.5" x2="49.05" y2="91.55" stroke="#2a92d6" stroke-width="1.55"/>
<line x1="49.05" y1="91.55" x2="47.1" y2="97.6" stroke="#d2a832" stroke-width="1.55"/>
<line x1="51" y1="85.5" x2="58.3" y2="89.4" stroke="#2a92d6" stroke-width="1.55"/>
<line x1="58.3" y1="89.4" x2="65.6" y2="93.3" stroke="#d2a832" stroke-width="1.55"/>
<line x1="73.8" y1="85.5" x2="66.9" y2="81.5" stroke="#2a92d6" stroke-width="1.55"/>
<line x1="66.9" y1="81.5" x2="60" y2="77.5" stroke="#d2a832" stroke-width="1.55"/>
<line x1="73.8" y1="85.5" x2="76.15" y2="79.35" stroke="#2a92d6" stroke-width="1.55"/>
<line x1="76.15" y1="79.35" x2="78.5" y2="73.2" stroke="#d2a832" stroke-width="1.55"/>
<line x1="73.8" y1="85.5" x2="69.7" y2="89.4" stroke="#2a92d6" stroke-width="1.55"/>
<line x1="69.7" y1="89.4" x2="65.6" y2="93.3" stroke="#d2a832" stroke-width="1.55"/>
<line x1="73.8" y1="85.5" x2="78.75" y2="91.55" stroke="#2a92d6" stroke-width="1.55"/>
<line x1="78.75" y1="91.55" x2="83.7" y2="97.6" stroke="#d2a832" stroke-width="1.55"/>
<line x1="87.2" y1="85.5" x2="82.85" y2="79.35" stroke="#2a92d6" stroke-width="1.55"/>
<line x1="82.85" y1="79.35" x2="78.5" y2="73.2" stroke="#d2a832" stroke-width="1.55"/>
<line x1="87.2" y1="85.5" x2="91.7" y2="81.2" stroke="#2a92d6" stroke-width="1.55"/>
<line x1="91.7" y1="81.2" x2="96.2" y2="76.9" stroke="#d2a832" stroke-width="1.55"/>
<line x1="87.2" y1="85.5" x2="85.45" y2="91.55" stroke="#2a92d6" stroke-width="1.55"/>
<line x1="85.45" y1="91.55" x2="83.7" y2="97.6" stroke="#d2a832" stroke-width="1.55"/>
<line x1="87.2" y1="85.5" x2="94.4" y2="89.6" stroke="#2a92d6" stroke-width="1.55"/>
<line x1="94.4" y1="89.6" x2="101.6" y2="93.7" stroke="#d2a832" stroke-width="1.55"/>
<line x1="35.4" y1="125.6" x2="33.25" y2="119.9" stroke="#2a92d6" stroke-width="1.55"/>
<line x1="33.25" y1="119.9" x2="31.1" y2="114.2" stroke="#d2a832" stroke-width="1.55"/>
<line x1="35.4" y1="125.6" x2="42.3" y2="121.5" stroke="#2a92d6" stroke-width="1.55"/>
<line x1="42.3" y1="121.5" x2="49.2" y2="117.4" stroke="#d2a832" stroke-width="1.55"/>
<line x1="35.4" y1="125.6" x2="30.45" y2="132.05" stroke="#2a92d6" stroke-width="1.55"/>
<line x1="30.45" y1="132.05" x2="25.5" y2="138.5" stroke="#d2a832" stroke-width="1.55"/>
<line x1="35.4" y1="125.6" x2="39.7" y2="130.15" stroke="#2a92d6" stroke-width="1.55"/>
<line x1="39.7" y1="130.15" x2="44" y2="134.7" stroke="#d2a832" stroke-width="1.55"/>
<line x1="57.8" y1="126.5" x2="53.5" y2="121.95" stroke="#2a92d6" stroke-width="1.55"/>
<line x1="53.5" y1="121.95" x2="49.2" y2="117.4" stroke="#d2a832" stroke-width="1.55"/>
<line x1="57.8" y1="126.5" x2="62.45" y2="120.35" stroke="#2a92d6" stroke-width="1.55"/>
<line x1="62.45" y1="120.35" x2="67.1" y2="114.2" stroke="#d2a832" stroke-width="1.55"/>
<line x1="57.8" y1="126.5" x2="50.9" y2="130.6" stroke="#2a92d6" stroke-width="1.55"/>
<line x1="50.9" y1="130.6" x2="44" y2="134.7" stroke="#d2a832" stroke-width="1.55"/>
<line x1="57.8" y1="126.5" x2="59.75" y2="132.5" stroke="#2a92d6" stroke-width="1.55"/>
<line x1="59.75" y1="132.5" x2="61.7" y2="138.5" stroke="#d2a832" stroke-width="1.55"/>
<line x1="71.4" y1="125.6" x2="69.25" y2="119.9" stroke="#2a92d6" stroke-width="1.55"/>
<line x1="69.25" y1="119.9" x2="67.1" y2="114.2" stroke="#d2a832" stroke-width="1.55"/>
<line x1="71.4" y1="125.6" x2="78.4" y2="121.5" stroke="#2a92d6" stroke-width="1.55"/>
<line x1="78.4" y1="121.5" x2="85.4" y2="117.4" stroke="#d2a832" stroke-width="1.55"/>
<line x1="71.4" y1="125.6" x2="66.55" y2="132.05" stroke="#2a92d6" stroke-width="1.55"/>
<line x1="66.55" y1="132.05" x2="61.7" y2="138.5" stroke="#d2a832" stroke-width="1.55"/>
<line x1="71.4" y1="125.6" x2="75.7" y2="130.15" stroke="#2a92d6" stroke-width="1.55"/>
<line x1="75.7" y1="130.15" x2="80" y2="134.7" stroke="#d2a832" stroke-width="1.55"/>
<line x1="94.5" y1="126.5" x2="89.95" y2="121.95" stroke="#2a92d6" stroke-width="1.55"/>
<line x1="89.95" y1="121.95" x2="85.4" y2="117.4" stroke="#d2a832" stroke-width="1.55"/>
<line x1="94.5" y1="126.5" x2="99.15" y2="120.35" stroke="#2a92d6" stroke-width="1.55"/>
<line x1="99.15" y1="120.35" x2="103.8" y2="114.2" stroke="#d2a832" stroke-width="1.55"/>
<line x1="94.5" y1="126.5" x2="87.25" y2="130.6" stroke="#2a92d6" stroke-width="1.55"/>
<line x1="87.25" y1="130.6" x2="80" y2="134.7" stroke="#d2a832" stroke-width="1.55"/>
<line x1="94.5" y1="126.5" x2="96.45" y2="132.5" stroke="#2a92d6" stroke-width="1.55"/>
<line x1="96.45" y1="132.5" x2="98.4" y2="138.5" stroke="#d2a832" stroke-width="1.55"/>
<line x1="43.6" y1="55.4" x2="41.9" y2="70.7" stroke="#1c5c98" stroke-width="1.7" stroke-dasharray="1.2,1.1"/>
<line x1="61.4" y1="59.4" x2="60" y2="75" stroke="#1c5c98" stroke-width="1.7" stroke-dasharray="1.2,1.1"/>
<line x1="79.8" y1="55.4" x2="78.5" y2="70.7" stroke="#1c5c98" stroke-width="1.7" stroke-dasharray="1.2,1.1"/>
<line x1="97.9" y1="59.4" x2="96.2" y2="74.4" stroke="#1c5c98" stroke-width="1.7" stroke-dasharray="1.2,1.1"/>
<line x1="47.1" y1="100.1" x2="49.2" y2="114.9" stroke="#1c5c98" stroke-width="1.7" stroke-dasharray="1.2,1.1"/>
<line x1="65.6" y1="95.8" x2="67.1" y2="111.7" stroke="#1c5c98" stroke-width="1.7" stroke-dasharray="1.2,1.1"/>
<line x1="83.7" y1="100.1" x2="85.4" y2="114.9" stroke="#1c5c98" stroke-width="1.7" stroke-dasharray="1.2,1.1"/>
<line x1="101.6" y1="96.2" x2="103.8" y2="111.7" stroke="#1c5c98" stroke-width="1.7" stroke-dasharray="1.2,1.1"/>
<circle cx="30.7" cy="32.8" r="3.3" fill="url(#gy)"/>
<circle cx="48.8" cy="36.7" r="3.3" fill="url(#gy)"/>
<circle cx="66.9" cy="32.8" r="3.3" fill="url(#gy)"/>
<circle cx="85.5" cy="36.7" r="3.3" fill="url(#gy)"/>
<circle cx="104" cy="32.8" r="3.3" fill="url(#gy)"/>
<circle cx="25.2" cy="56.9" r="3.3" fill="url(#gy)"/>
<circle cx="43.6" cy="52.9" r="3.3" fill="url(#gy)"/>
<circle cx="61.4" cy="56.9" r="3.3" fill="url(#gy)"/>
<circle cx="79.8" cy="52.9" r="3.3" fill="url(#gy)"/>
<circle cx="97.9" cy="56.9" r="3.3" fill="url(#gy)"/>
<circle cx="34.7" cy="44.3" r="3.15" fill="url(#gb)"/>
<circle cx="58.3" cy="45.7" r="3.15" fill="url(#gb)"/>
<circle cx="70.7" cy="44.3" r="3.15" fill="url(#gb)"/>
<circle cx="94.1" cy="45.7" r="3.15" fill="url(#gb)"/>
<circle cx="23.4" cy="76.9" r="3.3" fill="url(#gy)"/>
<circle cx="41.9" cy="73.2" r="3.3" fill="url(#gy)"/>
<circle cx="60" cy="77.5" r="3.3" fill="url(#gy)"/>
<circle cx="78.5" cy="73.2" r="3.3" fill="url(#gy)"/>
<circle cx="96.2" cy="76.9" r="3.3" fill="url(#gy)"/>
<circle cx="29.4" cy="92.6" r="3.3" fill="url(#gy)"/>
<circle cx="47.1" cy="97.6" r="3.3" fill="url(#gy)"/>
<circle cx="65.6" cy="93.3" r="3.3" fill="url(#gy)"/>
<circle cx="83.7" cy="97.6" r="3.3" fill="url(#gy)"/>
<circle cx="101.6" cy="93.7" r="3.3" fill="url(#gy)"/>
<circle cx="37.6" cy="85.5" r="3.15" fill="url(#gb)"/>
<circle cx="51" cy="85.5" r="3.15" fill="url(#gb)"/>
<circle cx="73.8" cy="85.5" r="3.15" fill="url(#gb)"/>
<circle cx="87.2" cy="85.5" r="3.15" fill="url(#gb)"/>
<circle cx="31.1" cy="114.2" r="3.3" fill="url(#gy)"/>
<circle cx="49.2" cy="117.4" r="3.3" fill="url(#gy)"/>
<circle cx="67.1" cy="114.2" r="3.3" fill="url(#gy)"/>
<circle cx="85.4" cy="117.4" r="3.3" fill="url(#gy)"/>
<circle cx="103.8" cy="114.2" r="3.3" fill="url(#gy)"/>
<circle cx="25.5" cy="138.5" r="3.3" fill="url(#gy)"/>
<circle cx="44" cy="134.7" r="3.3" fill="url(#gy)"/>
<circle cx="61.7" cy="138.5" r="3.3" fill="url(#gy)"/>
<circle cx="80" cy="134.7" r="3.3" fill="url(#gy)"/>
<circle cx="98.4" cy="138.5" r="3.3" fill="url(#gy)"/>
<circle cx="35.4" cy="125.6" r="3.15" fill="url(#gb)"/>
<circle cx="57.8" cy="126.5" r="3.15" fill="url(#gb)"/>
<circle cx="71.4" cy="125.6" r="3.15" fill="url(#gb)"/>
<circle cx="94.5" cy="126.5" r="3.15" fill="url(#gb)"/>
<line x1="145.3" y1="45.7" x2="140.75" y2="41.4" stroke="#b0d6f0" stroke-width="1.05"/>
<line x1="140.75" y1="41.4" x2="136.2" y2="37.1" stroke="#efdcaa" stroke-width="1.05"/>
<line x1="145.3" y1="45.7" x2="150" y2="39.25" stroke="#b0d6f0" stroke-width="1.05"/>
<line x1="150" y1="39.25" x2="154.7" y2="32.8" stroke="#efdcaa" stroke-width="1.05"/>
<line x1="145.3" y1="45.7" x2="138.15" y2="49.55" stroke="#b0d6f0" stroke-width="1.05"/>
<line x1="138.15" y1="49.55" x2="131" y2="53.4" stroke="#efdcaa" stroke-width="1.05"/>
<line x1="145.3" y1="45.7" x2="147.2" y2="51.55" stroke="#b0d6f0" stroke-width="1.05"/>
<line x1="147.2" y1="51.55" x2="149.1" y2="57.4" stroke="#efdcaa" stroke-width="1.05"/>
<line x1="158.6" y1="44.8" x2="156.65" y2="38.8" stroke="#b0d6f0" stroke-width="1.05"/>
<line x1="156.65" y1="38.8" x2="154.7" y2="32.8" stroke="#efdcaa" stroke-width="1.05"/>
<line x1="158.6" y1="44.8" x2="165.75" y2="40.95" stroke="#b0d6f0" stroke-width="1.05"/>
<line x1="165.75" y1="40.95" x2="172.9" y2="37.1" stroke="#efdcaa" stroke-width="1.05"/>
<line x1="158.6" y1="44.8" x2="153.85" y2="51.1" stroke="#b0d6f0" stroke-width="1.05"/>
<line x1="153.85" y1="51.1" x2="149.1" y2="57.4" stroke="#efdcaa" stroke-width="1.05"/>
<line x1="158.6" y1="44.8" x2="162.9" y2="49.1" stroke="#b0d6f0" stroke-width="1.05"/>
<line x1="162.9" y1="49.1" x2="167.2" y2="53.4" stroke="#efdcaa" stroke-width="1.05"/>
<line x1="181.6" y1="45.7" x2="177.25" y2="41.4" stroke="#b0d6f0" stroke-width="1.05"/>
<line x1="177.25" y1="41.4" x2="172.9" y2="37.1" stroke="#efdcaa" stroke-width="1.05"/>
<line x1="181.6" y1="45.7" x2="186.5" y2="39.25" stroke="#b0d6f0" stroke-width="1.05"/>
<line x1="186.5" y1="39.25" x2="191.4" y2="32.8" stroke="#efdcaa" stroke-width="1.05"/>
<line x1="181.6" y1="45.7" x2="174.4" y2="49.55" stroke="#b0d6f0" stroke-width="1.05"/>
<line x1="174.4" y1="49.55" x2="167.2" y2="53.4" stroke="#efdcaa" stroke-width="1.05"/>
<line x1="181.6" y1="45.7" x2="183.45" y2="51.55" stroke="#b0d6f0" stroke-width="1.05"/>
<line x1="183.45" y1="51.55" x2="185.3" y2="57.4" stroke="#efdcaa" stroke-width="1.05"/>
<line x1="194.8" y1="44.8" x2="193.1" y2="38.8" stroke="#b0d6f0" stroke-width="1.05"/>
<line x1="193.1" y1="38.8" x2="191.4" y2="32.8" stroke="#efdcaa" stroke-width="1.05"/>
<line x1="194.8" y1="44.8" x2="202.15" y2="40.95" stroke="#b0d6f0" stroke-width="1.05"/>
<line x1="202.15" y1="40.95" x2="209.5" y2="37.1" stroke="#efdcaa" stroke-width="1.05"/>
<line x1="194.8" y1="44.8" x2="190.05" y2="51.1" stroke="#b0d6f0" stroke-width="1.05"/>
<line x1="190.05" y1="51.1" x2="185.3" y2="57.4" stroke="#efdcaa" stroke-width="1.05"/>
<line x1="194.8" y1="44.8" x2="199.4" y2="49.1" stroke="#b0d6f0" stroke-width="1.05"/>
<line x1="199.4" y1="49.1" x2="204" y2="53.4" stroke="#efdcaa" stroke-width="1.05"/>
<line x1="142.2" y1="87.1" x2="137.7" y2="80.5" stroke="#b0d6f0" stroke-width="1.05"/>
<line x1="137.7" y1="80.5" x2="133.2" y2="73.9" stroke="#efdcaa" stroke-width="1.05"/>
<line x1="142.2" y1="87.1" x2="146.75" y2="82.3" stroke="#b0d6f0" stroke-width="1.05"/>
<line x1="146.75" y1="82.3" x2="151.3" y2="77.5" stroke="#efdcaa" stroke-width="1.05"/>
<line x1="142.2" y1="87.1" x2="140.3" y2="92.75" stroke="#b0d6f0" stroke-width="1.05"/>
<line x1="140.3" y1="92.75" x2="138.4" y2="98.4" stroke="#efdcaa" stroke-width="1.05"/>
<line x1="142.2" y1="87.1" x2="149.1" y2="90.8" stroke="#b0d6f0" stroke-width="1.05"/>
<line x1="149.1" y1="90.8" x2="156" y2="94.5" stroke="#efdcaa" stroke-width="1.05"/>
<line x1="165" y1="86.4" x2="158.15" y2="81.95" stroke="#b0d6f0" stroke-width="1.05"/>
<line x1="158.15" y1="81.95" x2="151.3" y2="77.5" stroke="#efdcaa" stroke-width="1.05"/>
<line x1="165" y1="86.4" x2="167.1" y2="80.15" stroke="#b0d6f0" stroke-width="1.05"/>
<line x1="167.1" y1="80.15" x2="169.2" y2="73.9" stroke="#efdcaa" stroke-width="1.05"/>
<line x1="165" y1="86.4" x2="160.5" y2="90.45" stroke="#b0d6f0" stroke-width="1.05"/>
<line x1="160.5" y1="90.45" x2="156" y2="94.5" stroke="#efdcaa" stroke-width="1.05"/>
<line x1="165" y1="86.4" x2="170" y2="92.4" stroke="#b0d6f0" stroke-width="1.05"/>
<line x1="170" y1="92.4" x2="175" y2="98.4" stroke="#efdcaa" stroke-width="1.05"/>
<line x1="178.8" y1="87.1" x2="174" y2="80.5" stroke="#b0d6f0" stroke-width="1.05"/>
<line x1="174" y1="80.5" x2="169.2" y2="73.9" stroke="#efdcaa" stroke-width="1.05"/>
<line x1="178.8" y1="87.1" x2="183.15" y2="82.3" stroke="#b0d6f0" stroke-width="1.05"/>
<line x1="183.15" y1="82.3" x2="187.5" y2="77.5" stroke="#efdcaa" stroke-width="1.05"/>
<line x1="178.8" y1="87.1" x2="176.9" y2="92.75" stroke="#b0d6f0" stroke-width="1.05"/>
<line x1="176.9" y1="92.75" x2="175" y2="98.4" stroke="#efdcaa" stroke-width="1.05"/>
<line x1="178.8" y1="87.1" x2="185.7" y2="90.8" stroke="#b0d6f0" stroke-width="1.05"/>
<line x1="185.7" y1="90.8" x2="192.6" y2="94.5" stroke="#efdcaa" stroke-width="1.05"/>
<line x1="201.7" y1="86.4" x2="194.6" y2="81.95" stroke="#b0d6f0" stroke-width="1.05"/>
<line x1="194.6" y1="81.95" x2="187.5" y2="77.5" stroke="#efdcaa" stroke-width="1.05"/>
<line x1="201.7" y1="86.4" x2="203.75" y2="80.15" stroke="#b0d6f0" stroke-width="1.05"/>
<line x1="203.75" y1="80.15" x2="205.8" y2="73.9" stroke="#efdcaa" stroke-width="1.05"/>
<line x1="201.7" y1="86.4" x2="197.15" y2="90.45" stroke="#b0d6f0" stroke-width="1.05"/>
<line x1="197.15" y1="90.45" x2="192.6" y2="94.5" stroke="#efdcaa" stroke-width="1.05"/>
<line x1="201.7" y1="86.4" x2="206.65" y2="92.4" stroke="#b0d6f0" stroke-width="1.05"/>
<line x1="206.65" y1="92.4" x2="211.6" y2="98.4" stroke="#efdcaa" stroke-width="1.05"/>
<line x1="145.3" y1="127.2" x2="140.75" y2="122.65" stroke="#b0d6f0" stroke-width="1.05"/>
<line x1="140.75" y1="122.65" x2="136.2" y2="118.1" stroke="#efdcaa" stroke-width="1.05"/>
<line x1="145.3" y1="127.2" x2="150" y2="121.2" stroke="#b0d6f0" stroke-width="1.05"/>
<line x1="150" y1="121.2" x2="154.7" y2="115.2" stroke="#efdcaa" stroke-width="1.05"/>
<line x1="145.3" y1="127.2" x2="138.15" y2="131.25" stroke="#b0d6f0" stroke-width="1.05"/>
<line x1="138.15" y1="131.25" x2="131" y2="135.3" stroke="#efdcaa" stroke-width="1.05"/>
<line x1="145.3" y1="127.2" x2="147.2" y2="133.25" stroke="#b0d6f0" stroke-width="1.05"/>
<line x1="147.2" y1="133.25" x2="149.1" y2="139.3" stroke="#efdcaa" stroke-width="1.05"/>
<line x1="158.6" y1="126.4" x2="156.65" y2="120.8" stroke="#b0d6f0" stroke-width="1.05"/>
<line x1="156.65" y1="120.8" x2="154.7" y2="115.2" stroke="#efdcaa" stroke-width="1.05"/>
<line x1="158.6" y1="126.4" x2="165.75" y2="122.25" stroke="#b0d6f0" stroke-width="1.05"/>
<line x1="165.75" y1="122.25" x2="172.9" y2="118.1" stroke="#efdcaa" stroke-width="1.05"/>
<line x1="158.6" y1="126.4" x2="153.85" y2="132.85" stroke="#b0d6f0" stroke-width="1.05"/>
<line x1="153.85" y1="132.85" x2="149.1" y2="139.3" stroke="#efdcaa" stroke-width="1.05"/>
<line x1="158.6" y1="126.4" x2="162.9" y2="130.85" stroke="#b0d6f0" stroke-width="1.05"/>
<line x1="162.9" y1="130.85" x2="167.2" y2="135.3" stroke="#efdcaa" stroke-width="1.05"/>
<line x1="181.6" y1="127.2" x2="177.25" y2="122.65" stroke="#b0d6f0" stroke-width="1.05"/>
<line x1="177.25" y1="122.65" x2="172.9" y2="118.1" stroke="#efdcaa" stroke-width="1.05"/>
<line x1="181.6" y1="127.2" x2="186.25" y2="121.2" stroke="#b0d6f0" stroke-width="1.05"/>
<line x1="186.25" y1="121.2" x2="190.9" y2="115.2" stroke="#efdcaa" stroke-width="1.05"/>
<line x1="181.6" y1="127.2" x2="174.4" y2="131.25" stroke="#b0d6f0" stroke-width="1.05"/>
<line x1="174.4" y1="131.25" x2="167.2" y2="135.3" stroke="#efdcaa" stroke-width="1.05"/>
<line x1="181.6" y1="127.2" x2="183.45" y2="133.25" stroke="#b0d6f0" stroke-width="1.05"/>
<line x1="183.45" y1="133.25" x2="185.3" y2="139.3" stroke="#efdcaa" stroke-width="1.05"/>
<line x1="194.8" y1="126.4" x2="192.85" y2="120.8" stroke="#b0d6f0" stroke-width="1.05"/>
<line x1="192.85" y1="120.8" x2="190.9" y2="115.2" stroke="#efdcaa" stroke-width="1.05"/>
<line x1="194.8" y1="126.4" x2="201.95" y2="122.25" stroke="#b0d6f0" stroke-width="1.05"/>
<line x1="201.95" y1="122.25" x2="209.1" y2="118.1" stroke="#efdcaa" stroke-width="1.05"/>
<line x1="194.8" y1="126.4" x2="190.05" y2="132.85" stroke="#b0d6f0" stroke-width="1.05"/>
<line x1="190.05" y1="132.85" x2="185.3" y2="139.3" stroke="#efdcaa" stroke-width="1.05"/>
<line x1="194.8" y1="126.4" x2="199.1" y2="130.85" stroke="#b0d6f0" stroke-width="1.05"/>
<line x1="199.1" y1="130.85" x2="203.4" y2="135.3" stroke="#efdcaa" stroke-width="1.05"/>
<line x1="149.1" y1="59.9" x2="151.3" y2="75" stroke="#2b6a9c" stroke-width="1.7" stroke-dasharray="1.2,1.1"/>
<line x1="167.2" y1="55.9" x2="169.2" y2="71.4" stroke="#2b6a9c" stroke-width="1.7" stroke-dasharray="1.2,1.1"/>
<line x1="185.3" y1="59.9" x2="187.5" y2="75" stroke="#2b6a9c" stroke-width="1.7" stroke-dasharray="1.2,1.1"/>
<line x1="204" y1="55.9" x2="205.8" y2="71.4" stroke="#2b6a9c" stroke-width="1.7" stroke-dasharray="1.2,1.1"/>
<line x1="156" y1="97" x2="154.7" y2="112.7" stroke="#2b6a9c" stroke-width="1.7" stroke-dasharray="1.2,1.1"/>
<line x1="175" y1="100.9" x2="172.9" y2="115.6" stroke="#2b6a9c" stroke-width="1.7" stroke-dasharray="1.2,1.1"/>
<line x1="192.6" y1="97" x2="190.9" y2="112.7" stroke="#2b6a9c" stroke-width="1.7" stroke-dasharray="1.2,1.1"/>
<line x1="211.6" y1="100.9" x2="209.1" y2="115.6" stroke="#2b6a9c" stroke-width="1.7" stroke-dasharray="1.2,1.1"/>
<circle cx="136.2" cy="37.1" r="3.3" fill="url(#gyl)"/>
<circle cx="154.7" cy="32.8" r="3.3" fill="url(#gyl)"/>
<circle cx="172.9" cy="37.1" r="3.3" fill="url(#gyl)"/>
<circle cx="191.4" cy="32.8" r="3.3" fill="url(#gyl)"/>
<circle cx="209.5" cy="37.1" r="3.3" fill="url(#gyl)"/>
<circle cx="131" cy="53.4" r="3.3" fill="url(#gyl)"/>
<circle cx="149.1" cy="57.4" r="3.3" fill="url(#gyl)"/>
<circle cx="167.2" cy="53.4" r="3.3" fill="url(#gyl)"/>
<circle cx="185.3" cy="57.4" r="3.3" fill="url(#gyl)"/>
<circle cx="204" cy="53.4" r="3.3" fill="url(#gyl)"/>
<circle cx="145.3" cy="45.7" r="3.15" fill="url(#gbl)"/>
<circle cx="158.6" cy="44.8" r="3.15" fill="url(#gbl)"/>
<circle cx="181.6" cy="45.7" r="3.15" fill="url(#gbl)"/>
<circle cx="194.8" cy="44.8" r="3.15" fill="url(#gbl)"/>
<circle cx="133.2" cy="73.9" r="3.3" fill="url(#gyl)"/>
<circle cx="151.3" cy="77.5" r="3.3" fill="url(#gyl)"/>
<circle cx="169.2" cy="73.9" r="3.3" fill="url(#gyl)"/>
<circle cx="187.5" cy="77.5" r="3.3" fill="url(#gyl)"/>
<circle cx="205.8" cy="73.9" r="3.3" fill="url(#gyl)"/>
<circle cx="138.4" cy="98.4" r="3.3" fill="url(#gyl)"/>
<circle cx="156" cy="94.5" r="3.3" fill="url(#gyl)"/>
<circle cx="175" cy="98.4" r="3.3" fill="url(#gyl)"/>
<circle cx="192.6" cy="94.5" r="3.3" fill="url(#gyl)"/>
<circle cx="211.6" cy="98.4" r="3.3" fill="url(#gyl)"/>
<circle cx="142.2" cy="87.1" r="3.15" fill="url(#gbl)"/>
<circle cx="165" cy="86.4" r="3.15" fill="url(#gbl)"/>
<circle cx="178.8" cy="87.1" r="3.15" fill="url(#gbl)"/>
<circle cx="201.7" cy="86.4" r="3.15" fill="url(#gbl)"/>
<circle cx="136.2" cy="118.1" r="3.3" fill="url(#gyl)"/>
<circle cx="154.7" cy="115.2" r="3.3" fill="url(#gyl)"/>
<circle cx="172.9" cy="118.1" r="3.3" fill="url(#gyl)"/>
<circle cx="190.9" cy="115.2" r="3.3" fill="url(#gyl)"/>
<circle cx="209.1" cy="118.1" r="3.3" fill="url(#gyl)"/>
<circle cx="131" cy="135.3" r="3.3" fill="url(#gyl)"/>
<circle cx="149.1" cy="139.3" r="3.3" fill="url(#gyl)"/>
<circle cx="167.2" cy="135.3" r="3.3" fill="url(#gyl)"/>
<circle cx="185.3" cy="139.3" r="3.3" fill="url(#gyl)"/>
<circle cx="203.4" cy="135.3" r="3.3" fill="url(#gyl)"/>
<circle cx="145.3" cy="127.2" r="3.15" fill="url(#gbl)"/>
<circle cx="158.6" cy="126.4" r="3.15" fill="url(#gbl)"/>
<circle cx="181.6" cy="127.2" r="3.15" fill="url(#gbl)"/>
<circle cx="194.8" cy="126.4" r="3.15" fill="url(#gbl)"/>
<text x="-1.1" y="90.7" font-size="12.8" >P</text>
<path d="M10.9,75 L14.1,75 L14.1,88 L17.3,88 L12.5,98.8 L7.7,88 L10.9,88 Z" fill="#d9474c"/>
<text x="227.2" y="89.5" font-size="12.8" >P</text>
<path d="M218.8,95.6 L222.2,95.6 L222.2,83.7 L225.3,83.7 L220.5,71.8 L215.6,83.7 L218.8,83.7 Z" fill="#d9474c"/>
<text x="111.1" y="69.8" font-size="12.2" >E</text>
<path d="M115.9,74.4 L120.9,80.5 L117.6,80.5 L117.6,92 L120.9,92 L115.9,98.1 L110.9,92 L114.2,92 L114.2,80.5 L110.9,80.5 Z" fill="#4a78c8"/>
<path d="M96,83.8 L100.5,83.8 L100.5,82.2 L105.8,85.6 L100.5,89 L100.5,87.4 L96,87.4 Z" fill="#7c1426"/>
<path d="M134.8,83.8 L130.3,83.8 L130.3,82.2 L125,85.6 L130.3,89 L130.3,87.4 L134.8,87.4 Z" fill="#7c1426"/>
<path d="M20.3,305.2 L41,284.5 L164.3,284.5 L143.6,305.2Z" fill="#3c5f8b"/>
<path d="M143.6,305.2 L164.3,284.5 L164.3,294.8 L143.6,315.5Z" fill="#1f4470"/>
<rect x="20.3" y="305.2" width="123.3" height="10.3" fill="#163b63"/>
<path d="M31,294.5 L51.7,273.8 L153.1,273.8 L132.4,294.5Z" fill="#fde6a0"/>
<path d="M132.4,294.5 L153.1,273.8 L153.1,284.5 L132.4,305.2Z" fill="#d8c078"/>
<rect x="31" y="294.5" width="101.4" height="10.7" fill="#fde08c"/>
<path d="M137,299.5 L169.8,299.5" fill="none" stroke="#111" stroke-width="1.3" stroke-linejoin="miter"/>
<path d="M20.3,282.4 L41,261.7 L164.3,261.7 L143.6,282.4Z" fill="#aec3ec"/>
<path d="M143.6,282.4 L164.3,261.7 L164.3,273.8 L143.6,294.5Z" fill="#7f98c8"/>
<rect x="20.3" y="282.4" width="123.3" height="12.1" fill="#93b0e0"/>
<path d="M35.3,277.2 L56,256.5 L151.4,256.5 L130.7,277.2Z" fill="#9a8ad2"/>
<path d="M130.7,277.2 L151.4,256.5 L151.4,261.7 L130.7,282.4Z" fill="#7a62b0"/>
<rect x="35.3" y="277.2" width="95.4" height="5.2" fill="#8d75c5"/>
<path d="M0.9,277.4 L6.2,271.9 L50,271.9 L44.7,277.4Z" fill="#fde6a4" />
<path d="M120,276.6 L125.5,271.1 L178,271.1 L172.5,276.6Z" fill="#fde6a4" />
<g opacity="0.78">
<path d="M21.6,266 L42.3,245.3 L164.3,245.3 L143.6,266Z" fill="#bccdf0" />
<path d="M143.6,266 L164.3,245.3 L164.3,256.5 L143.6,277.2Z" fill="#a3b8e4" />
<rect x="20.3" y="266" width="123.3" height="11.2" fill="#b4c8ee"/>
</g>
<path d="M35.3,277.2 L46.3,266 L143.6,266 L143.6,268 L134.6,277.2Z" fill="#929fd9" opacity="0.9"/>
<path d="M31.5,256.5 L52.1,235.3 L153,235.3 L132.4,256.5Z" fill="#fdf1cf"/>
<path d="M132.4,256.5 L153,235.3 L153,244.8 L132.4,266Z" fill="#d8cda0"/>
<rect x="31.5" y="256.5" width="100.9" height="9.5" fill="#fcecc2"/>
<ellipse cx="92" cy="245.5" rx="3.4" ry="2.1" fill="#9b9b9b"/>
<ellipse cx="11.2" cy="273.6" rx="3.4" ry="2.1" fill="#9b9b9b"/>
<ellipse cx="167.6" cy="273.2" rx="3.4" ry="2.1" fill="#9b9b9b"/>
<path d="M11.5,272 L11.5,199.4 L88,199.4" fill="none" stroke="#111" stroke-width="1.3" stroke-linejoin="miter"/>
<circle cx="90.3" cy="199.3" r="1.75" fill="#fff" stroke="#111" stroke-width="1.6"/>
<circle cx="133.2" cy="199.2" r="1.75" fill="#fff" stroke="#111" stroke-width="1.6"/>
<path d="M135.3,199.2 L203.2,199.2 L203.2,299.5 L175.6,299.5" fill="none" stroke="#111" stroke-width="1.3" stroke-linejoin="miter"/>
<text x="98.3" y="203.6" font-size="12.4" >SMU</text>
<path d="M92,243.6 L92,221.3 L169.8,221.3" fill="none" stroke="#111" stroke-width="1.3" stroke-linejoin="miter"/>
<path d="M174.8,221.3 L203.2,221.3" fill="none" stroke="#111" stroke-width="1.3" stroke-linejoin="miter"/>
<line x1="169.8" y1="210.1" x2="169.8" y2="233.9" stroke="#111" stroke-width="1.3"/>
<line x1="174.9" y1="212.9" x2="174.9" y2="228.7" stroke="#111" stroke-width="1.7"/>
<line x1="169.8" y1="288.4" x2="169.8" y2="311.4" stroke="#111" stroke-width="1.3"/>
<line x1="175.2" y1="291.4" x2="175.2" y2="306.6" stroke="#111" stroke-width="1.7"/>
<text x="179.8" y="238.8" font-size="11.8">V<tspan font-size="8.4" dy="2.8">tg</tspan></text>
<text x="179.5" y="292.4" font-size="11.8">V<tspan font-size="8.4" dy="2.8">bg</tspan></text>
<path d="M170.5,272.9 L221.4,272.9 L221.4,301" fill="none" stroke="#111" stroke-width="1.3" stroke-linejoin="miter"/>
<line x1="209.3" y1="301" x2="233.1" y2="301" stroke="#111" stroke-width="1.3"/>
<line x1="213.3" y1="304.8" x2="229.3" y2="304.8" stroke="#111" stroke-width="1.3"/>
<line x1="217.2" y1="308.6" x2="225.3" y2="308.6" stroke="#111" stroke-width="1.3"/>
<path d="M23,346.2 L28.1,338.2 L47.1,338.2 L42,346.2Z" fill="#fde49a" />
<path d="M42,346.2 L47.1,338.2 L47.1,341.2 L42,349.2Z" fill="#ecd38e" />
<path d="M23,346.2 L42,346.2 L42,349.2 L23,349.2Z" fill="#ecd38e" />
<path d="M77,346.2 L82.1,338.2 L101.1,338.2 L96,346.2Z" fill="#a0b6e6" />
<path d="M96,346.2 L101.1,338.2 L101.1,341.2 L96,349.2Z" fill="#8aa2d4" />
<path d="M77,346.2 L96,346.2 L96,349.2 L77,349.2Z" fill="#8aa2d4" />
<path d="M130.2,346.2 L135.3,338.2 L154.3,338.2 L149.2,346.2Z" fill="#8f50ba" />
<path d="M149.2,346.2 L154.3,338.2 L154.3,341.2 L149.2,349.2Z" fill="#6e34a0" />
<path d="M130.2,346.2 L149.2,346.2 L149.2,349.2 L130.2,349.2Z" fill="#6e34a0" />
<path d="M176.9,346.2 L182,338.2 L201,338.2 L195.9,346.2Z" fill="#3a5a80" />
<path d="M195.9,346.2 L201,338.2 L201,341.2 L195.9,349.2Z" fill="#22446a" />
<path d="M176.9,346.2 L195.9,346.2 L195.9,349.2 L176.9,349.2Z" fill="#22446a" />
<text x="8.6" y="337" font-size="12.4" textLength="52.4" lengthAdjust="spacingAndGlyphs">Electrode</text>
<text x="83.6" y="337.1" font-size="12.2" >BN</text>
<text x="130.7" y="336.5" font-size="12.4" textLength="27.6" lengthAdjust="spacingAndGlyphs">WTe</text>
<text x="157.9" y="339.7" font-size="8.6">2</text>
<text x="180.3" y="336.3" font-size="12.2">SiO<tspan font-size="8.6" dy="3">2</tspan></text>
</svg>
</body></html>
